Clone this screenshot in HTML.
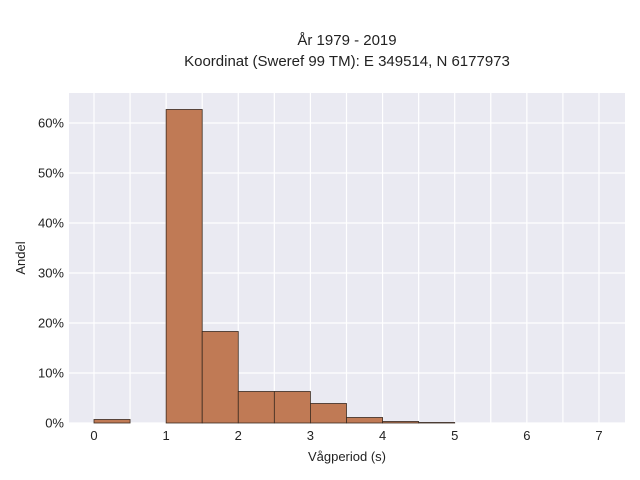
<!DOCTYPE html>
<html><head><meta charset="utf-8"><style>
body{margin:0;background:#fff;font-family:"Liberation Sans","DejaVu Sans",sans-serif;}
</style></head><body>
<svg id="chart" width="640" height="480" xmlns="http://www.w3.org/2000/svg" style="display:block">
<text x="347" y="45" text-anchor="middle" font-size="15" fill="#222">År 1979 - 2019</text>
<text x="347" y="66" text-anchor="middle" font-size="15" fill="#222">Koordinat (Sweref 99 TM): E 349514, N 6177973</text>
<rect x="69" y="93" width="556" height="330" fill="#eaeaf2"/>
<g id="grid"></g>
<g id="bars"></g>
<g id="ticks"></g>
<text x="347" y="461" text-anchor="middle" font-size="13" fill="#222">Vågperiod (s)</text>
<text x="25" y="258" text-anchor="middle" font-size="13" fill="#222" transform="rotate(-90 25 258)">Andel</text>
</svg>
<script>
const binStarts = [0,0.5,1,1.5,2,2.5,3,3.5,4,4.5];
const binValues = [0.7,0,62.7,18.3,6.3,6.3,3.9,1.1,0.3,0.1];
const xTicks = [0,1,2,3,4,5,6,7];
const yTicks = [0,10,20,30,40,50,60];
const binWidth = 0.5;
const NS="http://www.w3.org/2000/svg";
const xs = v => 94 + v*72.14;
const ys = v => 423 - v*5;
const grid=document.getElementById('grid'), bars=document.getElementById('bars'), ticks=document.getElementById('ticks');
function mk(tag,attrs,parent){const e=document.createElementNS(NS,tag);for(const k in attrs)e.setAttribute(k,attrs[k]);parent.appendChild(e);return e;}
for(let v=0; v<=7; v+=0.5){
  const g=mk('line',{x1:xs(v),x2:xs(v),y1:93,y2:423,stroke:'#fff','stroke-width':1.2},grid);
  
  
}
yTicks.forEach(t=>{
  const g=mk('line',{x1:69,x2:625,y1:ys(t),y2:ys(t),stroke:'#fff','stroke-width':1.2},grid);
  
  
  const tx=mk('text',{x:64,y:ys(t)+4.5,'text-anchor':'end','font-size':13,fill:'#222'},ticks);
  tx.textContent=t+'%';
  
  
});
xTicks.forEach(t=>{
  const tx=mk('text',{x:xs(t),y:440,'text-anchor':'middle','font-size':13,fill:'#222'},ticks);
  tx.textContent=t;
  
  
});
binStarts.forEach((s,i)=>{
  const v=binValues[i]; if(v<=0) return;
  const r=mk('rect',{x:xs(s),y:ys(v),width:xs(s+binWidth)-xs(s),height:ys(0)-ys(v),fill:'#c07a55',stroke:'#3a2a20','stroke-width':0.8},bars);
  
  
});
</script>
</body></html>
